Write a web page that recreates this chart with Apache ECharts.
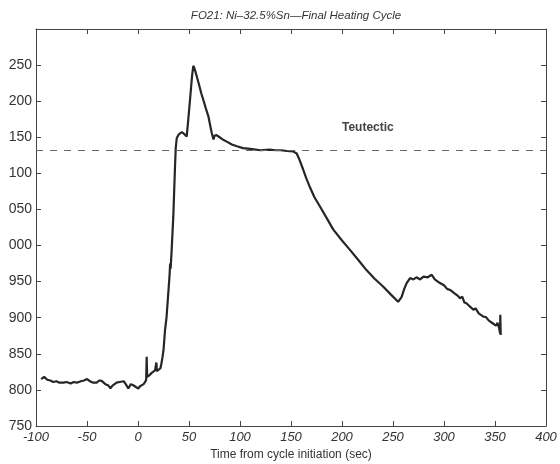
<!DOCTYPE html>
<html>
<head>
    <meta charset="UTF-8">
    <title>FO21 heating cycle</title>
    <script src="https://cdn.jsdelivr.net/npm/echarts@6/dist/echarts.min.js"></script>
</head>
<body style="margin:0;background:#fff">
<div id="container" style="width:560px;height:464px"></div>
<script type="text/javascript">
    // time (sec) and temperature
    var time = [-95, -92, -89, -86, -83, -80, -77, -73, -70, -66, -63, -60, -56, -53, -50, -47, -44, -40.5, -38, -35.6,
        -32, -29, -27, -25, -21, -18, -14, -12, -9.5, -7, -4.6, -2, 0.3, 2, 3.6, 5.5, 7, 8, 8.5, 9,
        11, 13.4, 16.7, 18, 18.5, 20, 22, 23, 24, 25, 26.5, 28, 30, 31, 31.5, 32, 33, 34.6, 36.3, 37,
        38, 40, 41, 43, 45, 47.7, 49, 51, 53, 54.2, 55.5, 57.5, 60, 62, 64, 66.5, 69, 71, 72.3, 74,
        75, 77, 80, 83, 87, 92, 97, 103, 110, 120, 129, 135, 140, 146, 152, 155.6, 158, 162, 165, 166,
        168.8, 173, 178.4, 185, 191.5, 200, 207.8, 216, 224, 232, 240.5, 248, 255, 258.5, 261, 263.4, 266.7, 270, 273, 276.5,
        280, 284, 288, 291, 293, 296, 300, 303, 306, 310, 313, 315.7, 318, 320, 322, 325, 328.8, 331, 334, 338.6,
        341, 344, 348, 351, 352.5, 354, 355, 355.2, 355.6];
    var temp = [815, 818, 814, 813, 811, 812, 810, 810, 811, 809, 811, 810, 812, 813, 815, 812, 810, 810, 813, 812.5,
        808, 806, 802, 806, 810, 811, 812, 808, 802, 808, 806.5, 804, 802, 805, 804, 808, 811, 814, 846, 818,
        820, 823.6, 827, 838, 826, 825, 830, 837, 845, 855, 883, 901, 940, 960, 975, 968, 994, 1040, 1110, 1135,
        1149, 1154, 1156, 1157, 1155, 1151, 1170, 1202, 1235, 1249, 1245, 1235, 1222, 1211, 1202, 1190, 1179, 1165, 1156, 1147,
        1152, 1153, 1150, 1147, 1144, 1140, 1137.5, 1135, 1134, 1132, 1133, 1132, 1132, 1131, 1130.5, 1127.5, 1120, 1105, 1093, 1095,
        1080, 1067, 1054, 1038, 1022, 1007, 994, 980, 966, 954, 943, 932, 922, 929, 940, 948, 955, 953, 956, 953,
        957, 956, 959.5, 953, 951, 948, 945, 940, 938.5, 934, 931, 927, 929, 921, 920, 916, 911, 913, 906, 901.5,
        901, 896, 892, 889, 893, 886, 878, 904, 876];
    var tEutectic = 1132;
    var xTicks = {min: -100, max: 400, step: 50};
    var yTicks = {min: 750, max: 1300, step: 50};

    var points = time.map(function (t, i) {
        return [t, temp[i]];
    });

    var ink = '#333';
    var frame = {
        axisLine: {show: true, onZero: false, lineStyle: {color: '#444', width: 1}},
        axisTick: {show: true, inside: true, length: 5, lineStyle: {color: '#444'}},
        splitLine: {show: false}
    };

    function axis(base, extra) {
        var o = {};
        for (var k in base) o[k] = base[k];
        for (var j in extra) o[j] = extra[j];
        return o;
    }

    var myChart = echarts.init(document.getElementById('container'));
    var option = {
        animation: false,
        backgroundColor: '#fff',
        title: {
            text: 'FO21: Ni\u201332.5%Sn\u2014Final Heating Cycle',
            left: 291, top: 5, textAlign: 'center',
            textStyle: {fontFamily: 'Liberation Sans', fontStyle: 'italic', fontWeight: 'normal', fontSize: 11.5, color: ink}
        },
        grid: {left: 36, right: 14, top: 29, bottom: 38, containLabel: false, outerBoundsMode: 'none'},
        xAxis: [
            axis(frame, {
                type: 'value', min: xTicks.min, max: xTicks.max, interval: xTicks.step,
                name: 'Time from cycle initiation (sec)', nameLocation: 'middle', nameGap: 22,
                nameTextStyle: {fontFamily: 'Liberation Sans', fontSize: 12, color: ink},
                axisLabel: {fontFamily: 'Liberation Sans', fontStyle: 'italic', fontSize: 13, color: ink, margin: 5}
            }),
            axis(frame, {
                type: 'value', position: 'top', min: xTicks.min, max: xTicks.max, interval: xTicks.step,
                axisLabel: {show: false}
            })
        ],
        yAxis: [
            axis(frame, {
                type: 'value', min: yTicks.min, max: yTicks.max, interval: yTicks.step,
                axisLabel: {fontFamily: 'Liberation Sans', fontSize: 14, color: ink, margin: 4, showMaxLabel: false}
            }),
            axis(frame, {
                type: 'value', position: 'right', min: yTicks.min, max: yTicks.max, interval: yTicks.step,
                axisLabel: {show: false}
            })
        ],
        graphic: [
            // the scan is cropped through the leading digits of the y labels
            {type: 'rect', left: 0, top: 40, shape: {width: 9, height: 400}, style: {fill: '#fff'}, z: 100},
            {
                type: 'text', left: 342, top: 122,
                style: {text: 'Teutectic', fill: '#444', font: 'bold 12px Liberation Sans'}
            }
        ],
        series: [
            {
                type: 'line',
                data: points,
                showSymbol: false,
                lineStyle: {color: '#262626', width: 2.2},
                markLine: {
                    silent: true,
                    symbol: 'none',
                    label: {show: false},
                    lineStyle: {color: '#666', type: [7, 7], width: 1},
                    data: [{yAxis: tEutectic}]
                }
            }
        ]
    };
    myChart.setOption(option);
</script>
</body>
</html>
